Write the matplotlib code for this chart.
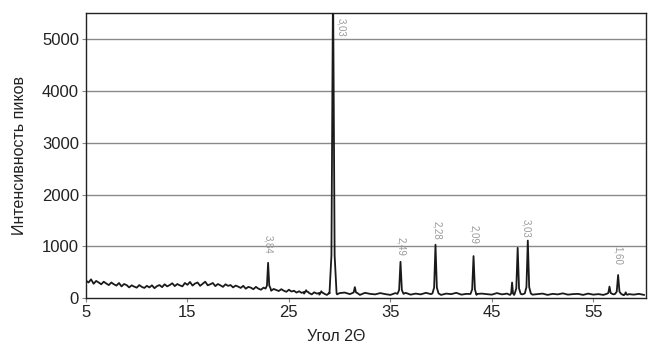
import numpy as np
import matplotlib
matplotlib.use("Agg")
import matplotlib.pyplot as plt

# ---- data ----
# background (baseline) intensity, 0.25 deg steps from 5 to 30
base_lo_start, base_lo_step = 5.0, 0.25
base_lo = [335, 300, 360, 275, 330, 300, 265, 315, 280, 250,
           300, 265, 240, 290, 225, 270, 250, 205, 245, 220,
           200, 250, 215, 195, 235, 205, 245, 190, 230, 250,
           210, 265, 225, 250, 285, 230, 270, 245, 225, 290,
           255, 310, 240, 280, 300, 235, 275, 315, 245, 265,
           290, 230, 270, 245, 215, 265, 235, 250, 205, 240,
           220, 195, 235, 180, 215, 200, 170, 215, 180, 160,
           200, 170, 185, 140, 175, 155, 135, 170, 140, 120,
           160, 125, 140, 105, 130, 100, 85, 125, 95, 70,
           110, 85, 65, 105, 80, 60, 100, 75, 110, 70, 95]
# background 0.5 deg steps from 30.5 to 60
base_hi_start, base_hi_step = 30.5, 0.5
base_hi = [105, 75, 95, 60, 100, 80, 70, 95, 75, 60,
           95, 80, 100, 65, 85, 70, 100, 75, 90, 60,
           85, 75, 100, 65, 80, 90, 60, 85, 75, 65,
           95, 70, 85, 60, 80, 70, 90, 65, 75, 85,
           60, 80, 70, 90, 65, 75, 80, 60, 85, 65,
           75, 60, 85, 70, 80, 55, 75, 65, 80, 60]

# diffraction peaks: angle 2Theta, apex intensity, half base width
peak_angle = [22.95, 26.7, 28.2, 29.35, 31.5, 36.0, 39.45, 43.2, 47.0, 47.55, 48.55, 56.6, 57.45, 58.2]
peak_height = [680, 150, 130, 6200, 210, 700, 1030, 810, 300, 970, 1110, 220, 445, 110]
peak_width = [0.25, 0.2, 0.2, 0.35, 0.25, 0.3, 0.3, 0.3, 0.2, 0.3, 0.3, 0.25, 0.3, 0.2]

# d-spacing labels above the peaks
label_text = ["3,84", "3,03", "2,49", "2,28", "2,09", "3,03", "1,60"]
label_angle = [23.0, 30.2, 36.05, 39.6, 43.25, 48.4, 57.4]
label_value = [1040, 5240, 1000, 1300, 1230, 1350, 830]

xticks = [5, 15, 25, 35, 45, 55]
yticks = [0, 1000, 2000, 3000, 4000, 5000]

# ---- build the trace ----
bx = np.concatenate([base_lo_start + base_lo_step * np.arange(len(base_lo)),
                     base_hi_start + base_hi_step * np.arange(len(base_hi))])
by = np.array(base_lo + base_hi, dtype=float)

keep = np.ones(len(bx), dtype=bool)
px, py = [], []
for c, h, w in zip(peak_angle, peak_height, peak_width):
    keep &= ~((bx > c - w) & (bx < c + w))
    b = float(np.interp(c, bx, by))
    xs = [c - w, c - 0.45 * w, c - 0.12 * w, c, c + 0.12 * w, c + 0.45 * w, c + w]
    ys = [b, b + 0.12 * (h - b), b + 0.75 * (h - b), h,
          b + 0.75 * (h - b), b + 0.12 * (h - b), b]
    px += xs
    py += ys

x = np.concatenate([bx[keep], px])
y = np.concatenate([by[keep], py])
order = np.argsort(x)
x, y = x[order], y[order]

# ---- plot ----
plt.rcParams['font.family'] = ['Liberation Sans', 'DejaVu Sans']
fig = plt.figure(figsize=(6.55, 3.47), dpi=100)
ax = fig.add_axes([86 / 655, 1 - 298 / 347, (646 - 86) / 655, (298 - 13) / 347])

for v in yticks[1:]:
    ax.axhline(v, color='#8a8a8a', lw=1.0, zorder=1)

ax.plot(x, y, color='#1a1a1a', lw=1.3, zorder=3, clip_on=True)

for t, a, v in zip(label_text, label_angle, label_value):
    ax.text(a, v, t, rotation=-90, ha='center', va='center',
            fontsize=7, color='#9a9a9a', zorder=4)

ax.set_xlim(5, 60.2)
ax.set_ylim(0, 5510)
ax.set_xticks(xticks)
ax.set_yticks(yticks)
ax.tick_params(axis='both', labelsize=12, labelcolor='#222222', length=3,
               width=0.8, direction='out', color='#888888', pad=2)
for s in ax.spines.values():
    s.set_color('#222222')
    s.set_linewidth(1.0)
ax.set_xlabel('Угол 2Θ', fontsize=11.5, color='#222222')
ax.xaxis.set_label_coords(0.446, -0.11)
ax.set_ylabel('Интенсивность пиков', fontsize=11.5, color='#222222')
ax.yaxis.set_label_coords(-0.105, 0.5)

fig.savefig('out.png', dpi=100)
